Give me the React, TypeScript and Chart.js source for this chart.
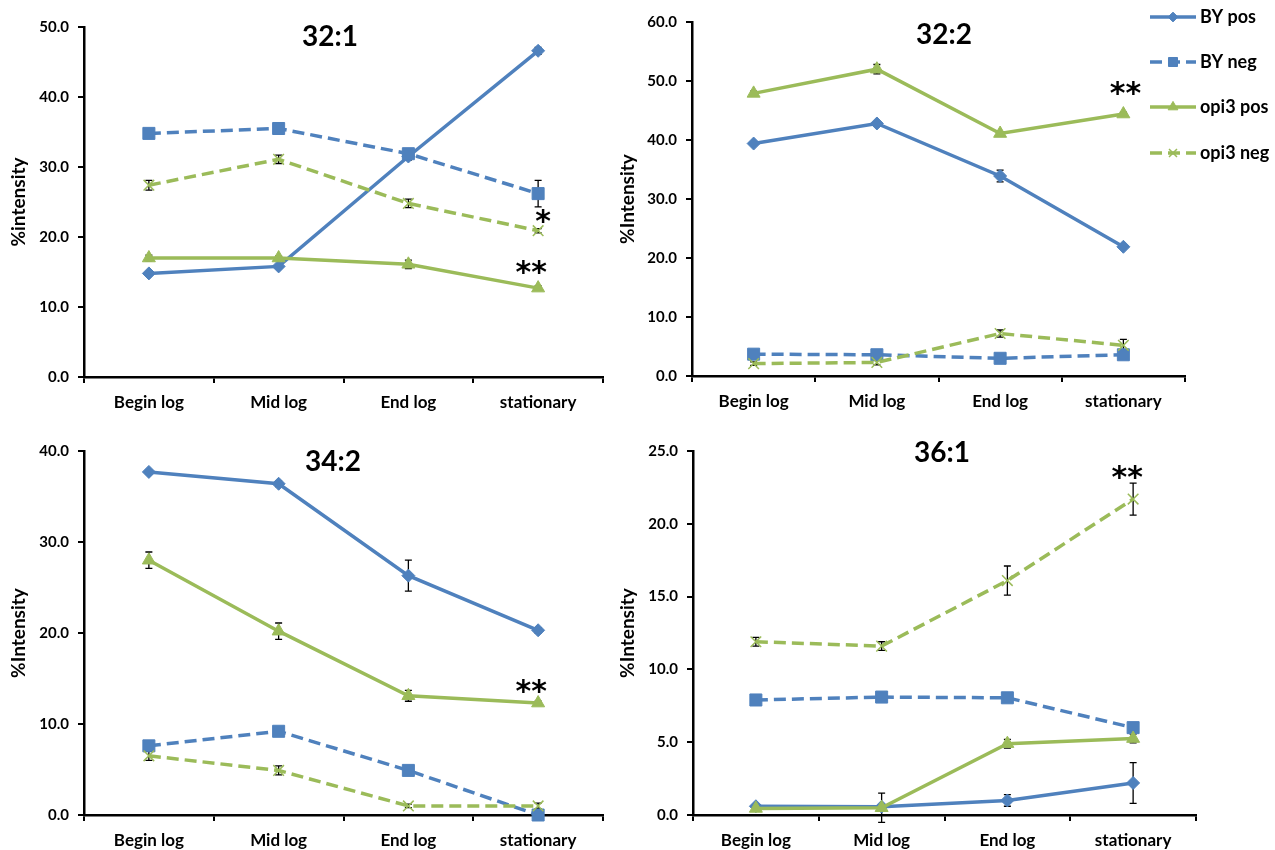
import React, { useEffect, useRef } from 'react';
import { Chart, registerables } from 'chart.js';
import { drawPoint } from 'chart.js/helpers';

Chart.register(...registerables);

// ---------- data ----------
const categories = ['Begin log', 'Mid log', 'End log', 'stationary'];
const seriesNames = ['BY pos', 'BY neg', 'opi3 pos', 'opi3 neg'];

// 32:1
const byPos_32_1 = [14.8, 15.8, 31.5, 46.6];
const byNeg_32_1 = [34.8, 35.5, 31.9, 26.2];
const opiPos_32_1 = [17.0, 17.0, 16.1, 12.7];
const opiNeg_32_1 = [27.4, 31.1, 24.8, 20.9];
const byPosErr_32_1 = [0.2, 0.2, 0.5, 0.5];
const byNegErr_32_1 = [0.3, 0.3, 0.4, 1.9];
const opiPosErr_32_1 = [0.4, 0.3, 0.6, 0.3];
const opiNegErr_32_1 = [0.7, 0.6, 0.6, 0.3];
const stars_32_1 = [
  { text: '*', index: 3, value: 22.9 },
  { text: '**', index: 3, value: 15.6 },
];

// 32:2
const byPos_32_2 = [39.4, 42.8, 33.9, 21.9];
const byNeg_32_2 = [3.7, 3.6, 3.0, 3.6];
const opiPos_32_2 = [47.9, 52.0, 41.1, 44.4];
const opiNeg_32_2 = [2.1, 2.3, 7.2, 5.2];
const byPosErr_32_2 = [0.3, 0.3, 1.0, 0.3];
const byNegErr_32_2 = [0.2, 0.2, 0.2, 0.3];
const opiPosErr_32_2 = [0.4, 0.8, 0.3, 0.3];
const opiNegErr_32_2 = [0.3, 0.4, 0.6, 1.0];
const stars_32_2 = [{ text: '**', index: 3, value: 48.7 }];

// 34:2
const byPos_34_2 = [37.7, 36.4, 26.3, 20.3];
const byNeg_34_2 = [7.6, 9.2, 4.9, 0.0];
const opiPos_34_2 = [28.0, 20.2, 13.1, 12.3];
const opiNeg_34_2 = [6.5, 4.9, 1.0, 1.0];
const byPosErr_34_2 = [0.2, 0.3, 1.7, 0.3];
const byNegErr_34_2 = [0.3, 0.2, 0.3, 0.1];
const opiPosErr_34_2 = [0.9, 0.9, 0.6, 0.2];
const opiNegErr_34_2 = [0.5, 0.5, 0.2, 0.3];
const stars_34_2 = [{ text: '**', index: 3, value: 14.1 }];

// 36:1
const byPos_36_1 = [0.6, 0.57, 1.0, 2.2];
const byNeg_36_1 = [7.9, 8.1, 8.05, 6.0];
const opiPos_36_1 = [0.45, 0.5, 4.9, 5.25];
const opiNeg_36_1 = [11.9, 11.6, 16.1, 21.7];
const byPosErr_36_1 = [0.1, 0.1, 0.4, 1.4];
const byNegErr_36_1 = [0.1, 0.1, 0.1, 0.2];
const opiPosErr_36_1 = [0.1, 1.0, 0.3, 0.3];
const opiNegErr_36_1 = [0.3, 0.3, 1.0, 1.1];
const stars_36_1 = [{ text: '**', index: 3, value: 23.5 }];

// ---------- styles ----------
const BLUE = '#4F81BD';
const GREEN = '#9BBB59';
const colors = [BLUE, BLUE, GREEN, GREEN];
const dashed = [false, true, false, true];
const pointStyles = ['rectRot', 'rect', 'triangle', 'crossRot'];
const pointRadii = [6.5, 8.5, 7.5, 7.5];
const DASH = [12, 6];
const FONT = 'Lato, "Open Sans", sans-serif';

type Star = { text: string; index: number; value: number };
type PanelSpec = {
  title: string;
  yTitle: string;
  yMax: number;
  step: number;
  series: number[][];
  errors: number[][];
  stars: Star[];
  starDx: number[];
  box: { left: number; top: number; width: number; height: number };
  area: { l: number; r: number; t: number; b: number };
  yTitlePad: number;
  titlePos: [number, number];
  legend: boolean;
};

const panels: PanelSpec[] = [
  {
    title: '32:1', yTitle: '%intensity', yMax: 50, step: 10,
    series: [byPos_32_1, byNeg_32_1, opiPos_32_1, opiNeg_32_1],
    errors: [byPosErr_32_1, byNegErr_32_1, opiPosErr_32_1, opiNegErr_32_1],
    stars: stars_32_1, starDx: [5, -7],
    box: { left: 0, top: 0, width: 640, height: 420 },
    area: { l: 84, r: 603, t: 27, b: 377 },
    yTitlePad: 7, titlePos: [330, 37], legend: false,
  },
  {
    title: '32:2', yTitle: '%Intensity', yMax: 60, step: 10,
    series: [byPos_32_2, byNeg_32_2, opiPos_32_2, opiNeg_32_2],
    errors: [byPosErr_32_2, byNegErr_32_2, opiPosErr_32_2, opiNegErr_32_2],
    stars: stars_32_2, starDx: [2],
    box: { left: 605, top: 0, width: 670, height: 420 },
    area: { l: 87, r: 580, t: 22, b: 376 },
    yTitlePad: 11, titlePos: [339, 35], legend: true,
  },
  {
    title: '34:2', yTitle: '%Intensity', yMax: 40, step: 10,
    series: [byPos_34_2, byNeg_34_2, opiPos_34_2, opiNeg_34_2],
    errors: [byPosErr_34_2, byNegErr_34_2, opiPosErr_34_2, opiNegErr_34_2],
    stars: stars_34_2, starDx: [-7],
    box: { left: 0, top: 420, width: 640, height: 430 },
    area: { l: 84, r: 603, t: 31, b: 395 },
    yTitlePad: 7, titlePos: [333, 42], legend: false,
  },
  {
    title: '36:1', yTitle: '%Intensity', yMax: 25, step: 5,
    series: [byPos_36_1, byNeg_36_1, opiPos_36_1, opiNeg_36_1],
    errors: [byPosErr_36_1, byNegErr_36_1, opiPosErr_36_1, opiNegErr_36_1],
    stars: stars_36_1, starDx: [-6],
    box: { left: 605, top: 420, width: 670, height: 430 },
    area: { l: 88, r: 591, t: 31, b: 395 },
    yTitlePad: 11, titlePos: [337, 33], legend: false,
  },
];

function makeErrorPlugin(spec: PanelSpec) {
  return {
    id: 'errorBars',
    beforeDatasetsDraw(chart: any) {
      const ctx = chart.ctx;
      const y = chart.scales.y;
      ctx.save();
      ctx.strokeStyle = '#000';
      ctx.lineWidth = 1.3;
      ctx.setLineDash([]);
      spec.errors.forEach((errs, di) => {
        const meta = chart.getDatasetMeta(di);
        errs.forEach((e, j) => {
          if (!e) return;
          const v = spec.series[di][j];
          const px = meta.data[j].x;
          const top = y.getPixelForValue(v + e);
          const bot = y.getPixelForValue(v - e);
          ctx.beginPath();
          ctx.moveTo(px, top); ctx.lineTo(px, bot);
          ctx.moveTo(px - 3.5, top); ctx.lineTo(px + 3.5, top);
          ctx.moveTo(px - 3.5, bot); ctx.lineTo(px + 3.5, bot);
          ctx.stroke();
        });
      });
      ctx.restore();
    },
  };
}

function makeDecoPlugin(spec: PanelSpec) {
  return {
    id: 'deco',
    afterDraw(chart: any) {
      const ctx = chart.ctx;
      const x = chart.scales.x;
      const y = chart.scales.y;
      ctx.save();
      // title
      ctx.fillStyle = '#000';
      ctx.font = `bold 28px ${FONT}`;
      ctx.textAlign = 'center';
      ctx.textBaseline = 'middle';
      ctx.fillText(spec.title, spec.titlePos[0], spec.titlePos[1]);
      // significance stars
      ctx.font = 'bold 30px "DejaVu Sans", sans-serif';
      ctx.textBaseline = 'alphabetic';
      spec.stars.forEach((s, i) => {
        const m = ctx.measureText(s.text);
        const cy = y.getPixelForValue(s.value);
        const base = cy + (m.actualBoundingBoxAscent - m.actualBoundingBoxDescent) / 2;
        ctx.fillText(s.text, x.getPixelForValue(s.index) + (spec.starDx[i] || 0), base);
      });
      // legend
      if (spec.legend) {
        const x0 = 545, x1 = 591, tx = 595;
        const rows = [17, 62, 107, 153];
        seriesNames.forEach((name, i) => {
          const ry = rows[i];
          ctx.strokeStyle = colors[i];
          ctx.lineWidth = 3.5;
          ctx.setLineDash(dashed[i] ? DASH : []);
          ctx.beginPath();
          ctx.moveTo(x0, ry); ctx.lineTo(x1, ry);
          ctx.stroke();
          ctx.setLineDash([]);
          ctx.fillStyle = colors[i];
          ctx.lineWidth = pointStyles[i] === 'crossRot' ? 1.5 : 1;
          drawPoint(ctx, { pointStyle: pointStyles[i], rotation: 0, radius: pointRadii[i] * 0.75, borderWidth: 1 } as any, (x0 + x1) / 2, ry);
          ctx.fillStyle = '#000';
          ctx.font = `bold 18px ${FONT}`;
          ctx.textAlign = 'left';
          ctx.textBaseline = 'middle';
          ctx.fillText(name, tx, ry);
        });
      }
      ctx.restore();
    },
  };
}

function Panel({ spec }: { spec: PanelSpec }) {
  const ref = useRef<HTMLCanvasElement | null>(null);
  useEffect(() => {
    if (!ref.current) return;
    const { box, area } = spec;
    const chart = new Chart(ref.current, {
      type: 'line',
      data: {
        labels: categories,
        datasets: spec.series.map((vals, i) => ({
          label: seriesNames[i],
          data: vals,
          borderColor: colors[i],
          backgroundColor: colors[i],
          pointBackgroundColor: colors[i],
          pointBorderColor: colors[i],
          borderWidth: 3.5,
          borderDash: dashed[i] ? DASH : [],
          pointStyle: pointStyles[i] as any,
          pointRadius: pointRadii[i],
          pointBorderWidth: pointStyles[i] === 'crossRot' ? 1.5 : 1,
          tension: 0,
          fill: false,
          clip: false as any,
          order: 4 - i,
        })),
      },
      options: {
        responsive: false,
        maintainAspectRatio: false,
        animation: false,
        events: [],
        layout: { padding: { left: 0, top: area.t, right: box.width - area.r, bottom: 0 } },
        plugins: {
          legend: { display: false },
          tooltip: { enabled: false },
          title: { display: false },
        },
        scales: {
          x: {
            type: 'category',
            offset: true,
            afterFit: (s: any) => { s.height = box.height - area.b; },
            grid: { offset: true, drawOnChartArea: false, drawTicks: true, tickLength: 6, color: '#000', lineWidth: 2 },
            border: { display: true, color: '#000', width: 2.5 },
            ticks: { color: '#000', padding: 9, font: { family: FONT, size: 17, weight: 'bold' }, maxRotation: 0 },
          },
          y: {
            min: 0,
            max: spec.yMax,
            afterFit: (s: any) => { s.width = area.l; },
            grid: { drawOnChartArea: false, drawTicks: true, tickLength: 6, color: '#000', lineWidth: 2 },
            border: { display: true, color: '#000', width: 2.5 },
            ticks: {
              stepSize: spec.step,
              color: '#000',
              padding: 9,
              font: { family: FONT, size: 15, weight: 'bold' },
              callback: (v: any) => Number(v).toFixed(1),
            },
            title: {
              display: true,
              text: spec.yTitle,
              color: '#000',
              font: { family: FONT, size: 19, weight: 'bold' },
              padding: { top: spec.yTitlePad, bottom: 0 },
            },
          },
        },
      } as any,
      plugins: [makeErrorPlugin(spec), makeDecoPlugin(spec)],
    });
    return () => chart.destroy();
  }, [spec]);
  const { box } = spec;
  return (
    <canvas
      ref={ref}
      width={box.width}
      height={box.height}
      style={{ position: 'absolute', left: box.left, top: box.top, width: box.width, height: box.height }}
    />
  );
}

export default function App() {
  return (
    <div style={{ position: 'absolute', left: 0, top: 0, width: 1275, height: 850, background: '#fff', overflow: 'hidden' }}>
      {panels.map((p) => (
        <Panel key={p.title} spec={p} />
      ))}
    </div>
  );
}
